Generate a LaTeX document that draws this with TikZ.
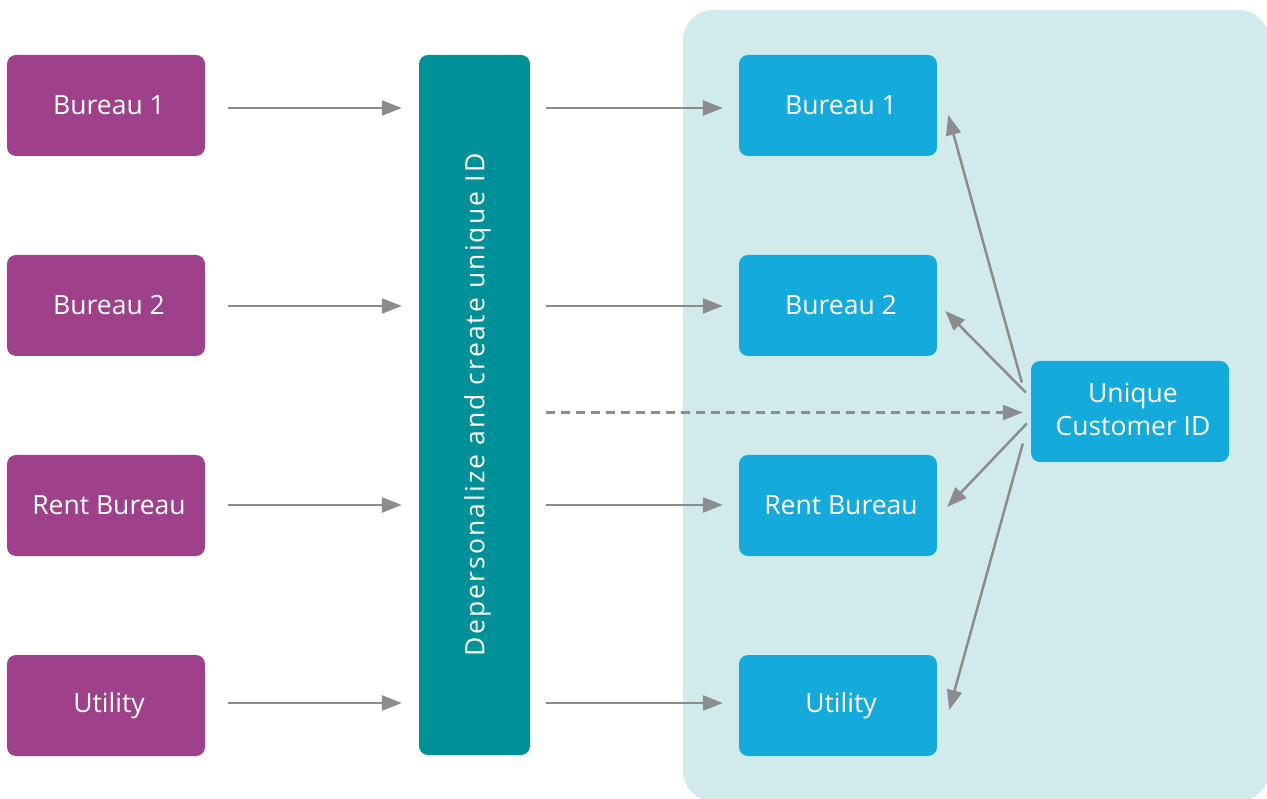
\documentclass[tikz,border=0pt]{standalone}
\usepackage{fontspec}
\setmainfont{Open Sans}
\usetikzlibrary{arrows.meta,calc}
\definecolor{purp}{HTML}{9E418A}
\definecolor{tealc}{HTML}{00909A}
\definecolor{bluec}{HTML}{14AADB}
\definecolor{panelc}{HTML}{D1EBEC}
\definecolor{arrc}{HTML}{8C8C8F}
\begin{document}
\begin{tikzpicture}[x=1pt,y=-1pt,
  lbl/.style={text=white, font=\fontsize{26.5}{33}\selectfont, align=center},
  box/.style={lbl, rounded corners=9pt, minimum width=198pt, minimum height=101pt, inner sep=0pt,
    execute at begin node={\hspace*{6pt}}},
  srcbox/.style={box, fill=purp},
  dstbox/.style={box, fill=bluec},
  arr/.style={draw=arrc, line width=2.5pt, -{Triangle[length=20pt,width=15pt]}},
  darr/.style={arr, dash pattern=on 9pt off 6pt}
]
\useasboundingbox (0,0) rectangle (1267,799);
\begin{scope}
\clip (0,0) rectangle (1267,799);
\fill[panelc, rounded corners=30pt] (683,10) rectangle (1269,801);
\end{scope}

\node[srcbox] (L1) at (106,105.5) {Bureau 1};
\node[srcbox] (L2) at (106,305.5) {Bureau 2};
\node[srcbox] (L3) at (106,505.5) {Rent Bureau};
\node[srcbox] (L4) at (106,705.5) {Utility};

\node[rounded corners=9pt, fill=tealc, minimum width=111pt, minimum height=700pt, inner sep=0pt] (D) at (474.5,405) {};
\node[text=white, font=\fontsize{26.5}{33}\selectfont\addfontfeature{LetterSpace=8}, rotate=90] (DT) at ($(D.center)+(3,0)$) {Depersonalize and create unique ID};

\node[dstbox] (R1) at (838,105.5) {Bureau 1};
\node[dstbox] (R2) at (838,305.5) {Bureau 2};
\node[dstbox] (R3) at (838,505.5) {Rent Bureau};
\node[dstbox] (R4) at (838,705.5) {Utility};

\node[dstbox] (U) at (1130,411.5) {};
\node[lbl] (UT) at ($(U.center)+(3,-2.5)$) {Unique\\Customer ID};

\foreach \i/\o in {1/2.5,2/0.5,3/-0.5,4/-2.5}{
  \draw[arr, shorten <=23pt, shorten >=17pt] ($(L\i.east)+(0,\o)$) -- ($(L\i.east -| D.west)+(0,\o)$);
  \draw[arr, shorten <=16pt, shorten >=16pt] ($(R\i.west -| D.east)+(0,\o)$) -- ($(R\i.west)+(0,\o)$);
}
\draw[darr, shorten <=16pt, shorten >=8pt] ($(U.west -| D.east)+(0,1)$) -- ($(U.west)+(0,1)$);

\draw[arr] ($(U.west)+(-9,-29)$) -- ($(R1.east)+(11,9.5)$);
\draw[arr] ($(U.west)+(-5,-19)$) -- ($(R2.east)+(8,5.5)$);
\draw[arr] ($(U.west)+(-4,12)$) -- ($(R3.east)+(10,1.5)$);
\draw[arr] ($(U.west)+(-8,32)$) -- ($(R4.east)+(12,4.5)$);
\end{tikzpicture}
\end{document}
